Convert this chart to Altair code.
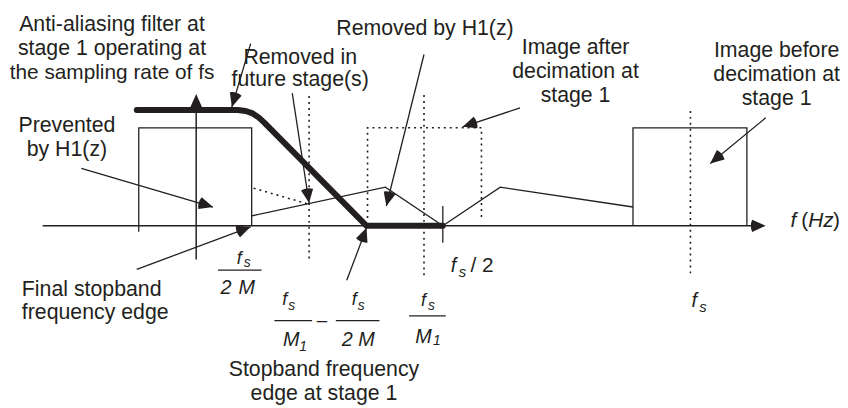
import math
import altair as alt
import pandas as pd

INK = "#231f20"
FONT = "Liberation Sans"

# Diagram coordinates: x = frequency in percent of fs (fs = 100), y = magnitude (arbitrary units)
X_DOMAIN = [-38, 130]
Y_DOMAIN = [-182, 218]
W, H = 840, 400

# ---------------- polylines (frequency, magnitude) ----------------
axis_f = [-31, 112.4];                 axis_m = [0, 0]
vaxis_f = [0, 0];                      vaxis_m = [-34, 121]
base_rect_f = [-11.6, -11.6, 11.2, 11.2]; base_rect_m = [-6, 99, 99, 0]
image_rect_f = [88.2, 88.2, 111.2, 111.2]; image_rect_m = [0, 99, 99, 0]
half_tick_f = [49.8, 49.8];            half_tick_m = [20, -17]
spectrum_f = [11.2, 38.2, 49.8, 61.4, 88.2]; spectrum_m = [10, 39, 0, 39, 19]
filter_f = [-12, 8.4, 10, 11.4, 12.6, 13.8, 34.4, 49.8]
filter_m = [117, 117, 116, 113.5, 109.5, 104, 0, 0]

alias_f = [11.6, 22.6];                alias_m = [38, 22]
after_rect_f = [34.6, 34.6, 57.6, 57.6]; after_rect_m = [8, 99, 99, 8]
dot_a_f = [22.8, 22.8];                dot_a_m = [131, -37]
dot_b_f = [46, 46];                    dot_b_m = [132, -54]
dot_c_f = [99.8, 99.8];                dot_c_m = [116, -52]

# fraction bars: f0, f1, m
bars_f0 = [4.4, 15.8, 28.2, 43.0]
bars_f1 = [13.2, 23.4, 37.0, 50.4]
bars_m = [-44.7, -95.7, -95.7, -91]

# arrows: start (f, m) -> tip (f, m)
arr_f0 = [11.0, 19.4, 46.0, 65.4, 115.0, -23.2, -12.0, 30.4]
arr_m0 = [184, 134, 173, 119, 109, 58, -44, -55]
arr_f1 = [7.2, 22.8, 38.4, 53.8, 103.8, 3.4, 11.0, 34.4]
arr_m1 = [120, 23, 20, 100, 63, 19, -1, -2]

# axis arrowheads: point behind the tip -> tip
axhead_f0 = [112.4, 0];  axhead_m0 = [0, 121]
axhead_f1 = [115.0, 0];  axhead_m1 = [0, 133]

# ---------------- texts ----------------
center_text = ["Anti-aliasing filter at", "stage 1 operating at", "the sampling rate of fs",
               "Removed in", "future stage(s)", "Removed by H1(z)",
               "Image after", "decimation at", "stage 1",
               "Image before", "decimation at", "stage 1",
               "Prevented", "by H1(z)", "Stopband frequency", "edge at stage 1", "–"]
center_f = [-17.0, -17.0, -17.0, 21, 21, 46.2, 76.6, 76.6, 76.6, 117.2, 117.2, 117.2,
            -26.1, -26.1, 25.8, 25.8, 25.4]
center_m = [196.7, 172.7, 148.7, 163, 141, 193, 173, 149, 125, 170, 146, 122,
            95, 71, -152, -176, -101.5]
center_s = [21.5, 21.5, 21] + [21.5] * 13 + [19]

left_text = ["Final stopband", "frequency edge", "/ 2", "(", ")"]
left_f = [-35.2, -35.2, 55.4, 122.2, 128.6]
left_m = [-71, -94, -47, -1, -1]
left_s = [21.5, 21.5, 21, 21, 21]

ital_text = ["f", "s", "f", "s", "f", "s", "f", "s", "1", "1", "f", "s", "f", "s", "f", "Hz"]
ital_f = [8.2, 9.6, 17.4, 18.6, 31.4, 32.6, 45.4, 46.8, 20.8, 47.8, 51.4, 53.0, 100.0, 101.6, 120.0, 123.6]
ital_m = [-39, -42, -80, -85, -80, -85, -81, -85, -126, -120, -47, -52, -82, -87, -1, -1]
ital_s = [18, 14, 18, 14, 18, 14, 18, 14, 14, 14, 20, 15, 20, 15, 21, 21]

italc_text = ["2", "M", "M", "2", "M", "M"]
italc_f = [6.0, 10.2, 19.2, 30.5, 34.4, 45.9]
italc_m = [-69, -69, -121, -121, -121, -118]
italc_s = [20, 20, 20, 20, 20, 20]

# ---------------- build tables ----------------
def poly(name, fs, ms):
    return pd.DataFrame({"f": fs, "m": ms, "seg": name, "i": list(range(len(fs)))})

solid_df = pd.concat([
    poly("base", base_rect_f, base_rect_m),
    poly("image", image_rect_f, image_rect_m),
    poly("half", half_tick_f, half_tick_m),
    poly("spec", spectrum_f, spectrum_m),
])
axis_df = pd.concat([poly("ax", axis_f, axis_m), poly("vax", vaxis_f, vaxis_m)])
dotted_df = pd.concat([
    poly("alias", alias_f, alias_m),
    poly("after", after_rect_f, after_rect_m),
    poly("da", dot_a_f, dot_a_m),
    poly("db", dot_b_f, dot_b_m),
    poly("dc", dot_c_f, dot_c_m),
])
filter_df = poly("filter", filter_f, filter_m)

PXF = W / (X_DOMAIN[1] - X_DOMAIN[0])
PXM = H / (Y_DOMAIN[1] - Y_DOMAIN[0])
HEAD_LEN = 15.0
HEAD_HALF = math.atan(6.3 / 14.0)   # half opening angle of the arrowhead wedge


def wedge(f0, m0, f1, m1):
    bx = (f0 - f1) * PXF
    by = -(m0 - m1) * PXM
    back = math.atan2(bx, -by)            # clockwise from 12 o'clock
    t1 = back - HEAD_HALF
    t2 = back + HEAD_HALF
    while t1 < 0:
        t1 += 2 * math.pi
        t2 += 2 * math.pi
    return f1, m1, t1, t2


heads_df = pd.DataFrame(
    [wedge(a, b, c, d) for a, b, c, d in zip(arr_f0 + axhead_f0, arr_m0 + axhead_m0,
                                              arr_f1 + axhead_f1, arr_m1 + axhead_m1)],
    columns=["f", "m", "t1", "t2"])
arrows_df = pd.DataFrame({"f": arr_f0, "m": arr_m0, "f2": arr_f1, "m2": arr_m1})
bars_df = pd.DataFrame({"f": bars_f0, "f2": bars_f1, "m": bars_m})

center_df = pd.DataFrame({"f": center_f, "m": center_m, "t": center_text, "s": center_s})
left_df = pd.DataFrame({"f": left_f, "m": left_m, "t": left_text, "s": left_s})
ital_df = pd.DataFrame({"f": ital_f, "m": ital_m, "t": ital_text, "s": ital_s})
italc_df = pd.DataFrame({"f": italc_f, "m": italc_m, "t": italc_text, "s": italc_s})

xs = alt.Scale(domain=X_DOMAIN, nice=False, zero=False)
ys = alt.Scale(domain=Y_DOMAIN, nice=False, zero=False)
X = alt.X("f:Q", scale=xs, axis=None)
Y = alt.Y("m:Q", scale=ys, axis=None)


def lines(df, **kw):
    return alt.Chart(df).mark_line(color=INK, **kw).encode(
        x=X, y=Y, detail="seg:N", order="i:Q")


def texts(df, align, style):
    return alt.Chart(df).mark_text(align=align, baseline="alphabetic", font=FONT,
                                   fontStyle=style, color=INK).encode(
        x=X, y=Y, text="t:N", size=alt.Size("s:Q", scale=None))


solid = lines(solid_df, strokeWidth=1.3)
axes = lines(axis_df, strokeWidth=1.5)
dotted = lines(dotted_df, strokeWidth=1.6, strokeDash=[2, 4])
filt = lines(filter_df, strokeWidth=6, strokeCap="round", strokeJoin="round")

shafts = alt.Chart(arrows_df).mark_rule(color=INK, strokeWidth=1.3).encode(
    x=X, y=Y, x2="f2:Q", y2="m2:Q")
heads_layer = alt.Chart(heads_df).mark_arc(
    radius=HEAD_LEN, color=INK, opacity=1
).encode(
    x=X, y=Y,
    theta=alt.Theta("t1:Q", scale=None, stack=None),
    theta2="t2:Q",
)
bars = alt.Chart(bars_df).mark_rule(color=INK, strokeWidth=1.2).encode(x=X, y=Y, x2="f2:Q")

chart = alt.layer(
    dotted, solid, axes, filt, shafts, bars,
    texts(center_df, "center", "normal"),
    texts(left_df, "left", "normal"),
    texts(ital_df, "left", "italic"),
    texts(italc_df, "center", "italic"),
    heads_layer,
).properties(
    width=W, height=H, padding=0, background="white",
    autosize=alt.AutoSizeParams(type="none"),
).configure_view(stroke=None)

chart.save("out.html", embed_options={"renderer": "svg", "actions": False})
